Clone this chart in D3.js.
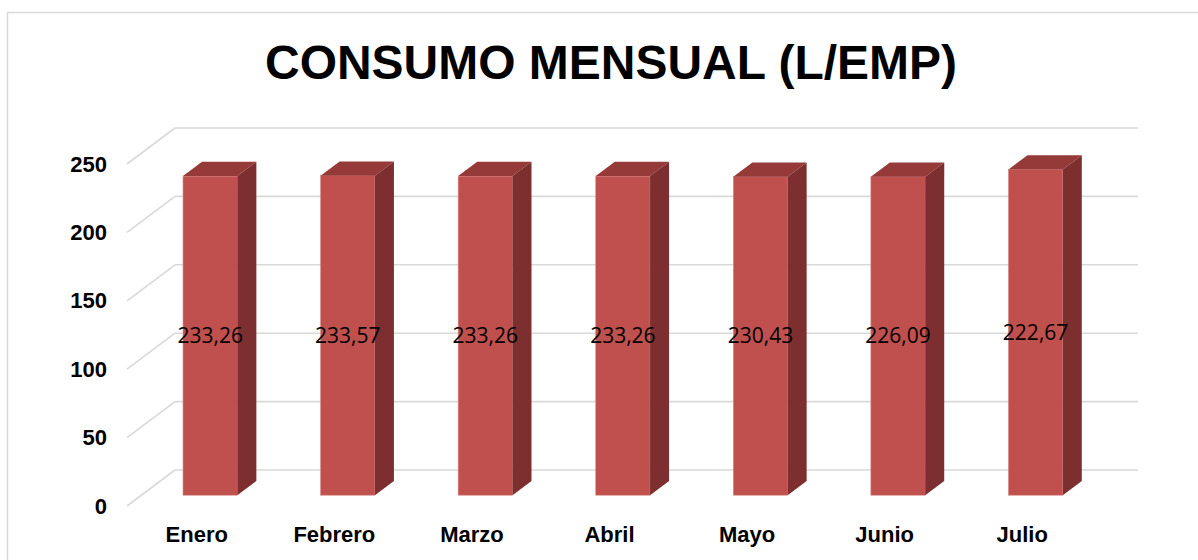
<!DOCTYPE html>
<html>
<head>
<meta charset="utf-8">
<script src="https://cdn.jsdelivr.net/npm/d3@7"></script>
<style>
  body { margin: 0; background: #fff; }
  svg { display: block; }
</style>
</head>
<body>
<svg id="chart" width="1198" height="560"></svg>
<script>
// data
var months = ["Enero", "Febrero", "Marzo", "Abril", "Mayo", "Junio", "Julio"];
var barValues = [233.26, 233.57, 233.26, 233.26, 232.8, 232.8, 238.1];
var labelTexts = ["233,26", "233,57", "233,26", "233,26", "230,43", "226,09", "222,67"];
var yTicks = [0, 50, 100, 150, 200, 250];
var title = "CONSUMO MENSUAL (L/EMP)";

var svg = d3.select("#chart");

// 3D look: depth offset of the back wall
var depthX = 48, depthY = -36;
var barFront = 0.3, barBack = 0.696;

var x = d3.scaleBand().domain(months).range([127, 1090]).padding(0);
var y = d3.scaleLinear().domain([0, 250]).range([506, 164]);

// chart frame
svg.append("rect")
    .attr("x", 7.5).attr("y", 12.5)
    .attr("width", 1220).attr("height", 600)
    .attr("fill", "#fff")
    .attr("stroke", "#d9d9d9")
    .attr("stroke-width", 1.5);

// title
svg.append("text")
    .attr("x", 611).attr("y", 78.5)
    .attr("text-anchor", "middle")
    .attr("font-family", "Liberation Sans, Arial, sans-serif")
    .attr("font-weight", "bold")
    .attr("font-size", "48px")
    .attr("textLength", 692)
    .attr("lengthAdjust", "spacingAndGlyphs")
    .attr("fill", "#000")
    .text(title);

// gridlines: side wall diagonal + back wall horizontal
var grid = svg.append("g").attr("class", "grid");
yTicks.forEach(function (t) {
    grid.append("line")
        .attr("x1", x.range()[0]).attr("y1", y(t))
        .attr("x2", x.range()[0] + depthX).attr("y2", y(t) + depthY)
        .attr("stroke", "#d9d9d9").attr("stroke-width", 1.6);
    grid.append("line")
        .attr("x1", x.range()[0] + depthX).attr("y1", y(t) + depthY)
        .attr("x2", x.range()[1] + depthX).attr("y2", y(t) + depthY)
        .attr("stroke", "#d9d9d9").attr("stroke-width", 1.6);
});

// bars
var barW = x.bandwidth() * 0.395;
var dx = depthX * (barBack - barFront), dy = depthY * (barBack - barFront);

var bars = svg.selectAll(".bar")
    .data(months)
    .enter().append("g")
    .attr("class", "bar");

bars.each(function (d, i) {
    var g = d3.select(this);
    var cx = x(d) + x.bandwidth() / 2 + depthX * barFront;
    var x0 = cx - barW / 2, x1 = cx + barW / 2;
    var yt = y(barValues[i]) + depthY * barFront;
    var yb = y(0) + depthY * barFront;

    g.append("rect")
        .attr("x", x0).attr("y", yt)
        .attr("width", barW).attr("height", yb - yt)
        .attr("fill", "#c0504d")
        .attr("stroke", "#d68a88").attr("stroke-width", 0.6);

    g.append("polygon")
        .attr("points", [[x0, yt], [x1, yt], [x1 + dx, yt + dy], [x0 + dx, yt + dy]].join(" "))
        .attr("fill", "#953a38");

    g.append("polygon")
        .attr("points", [[x1, yt], [x1 + dx, yt + dy], [x1 + dx, yb + dy], [x1, yb]].join(" "))
        .attr("fill", "#7c2f2e");

    g.append("text")
        .attr("x", cx).attr("y", (yt + yb) / 2)
        .attr("dy", "0.35em")
        .attr("text-anchor", "middle")
        .attr("font-family", "Open Sans, sans-serif")
        .attr("font-size", "21px")
        .attr("fill", "#000")
        .text(labelTexts[i]);
});

// y axis labels
var yAxis = svg.append("g")
    .attr("transform", "translate(107,0)")
    .call(d3.axisLeft(y).tickValues(yTicks).tickSize(0).tickPadding(0));
yAxis.select(".domain").remove();
yAxis.selectAll("text")
    .attr("font-family", "Liberation Sans, Arial, sans-serif")
    .attr("font-weight", "bold")
    .attr("font-size", "22px")
    .attr("fill", "#000");

// x axis labels
var xAxis = svg.append("g")
    .attr("transform", "translate(1,0)")
    .call(d3.axisBottom(x).tickSize(0));
xAxis.select(".domain").remove();
xAxis.selectAll("text")
    .attr("y", 542).attr("dy", 0)
    .attr("font-family", "Liberation Sans, Arial, sans-serif")
    .attr("font-weight", "bold")
    .attr("font-size", "22px")
    .attr("fill", "#000");
</script>
</body>
</html>
